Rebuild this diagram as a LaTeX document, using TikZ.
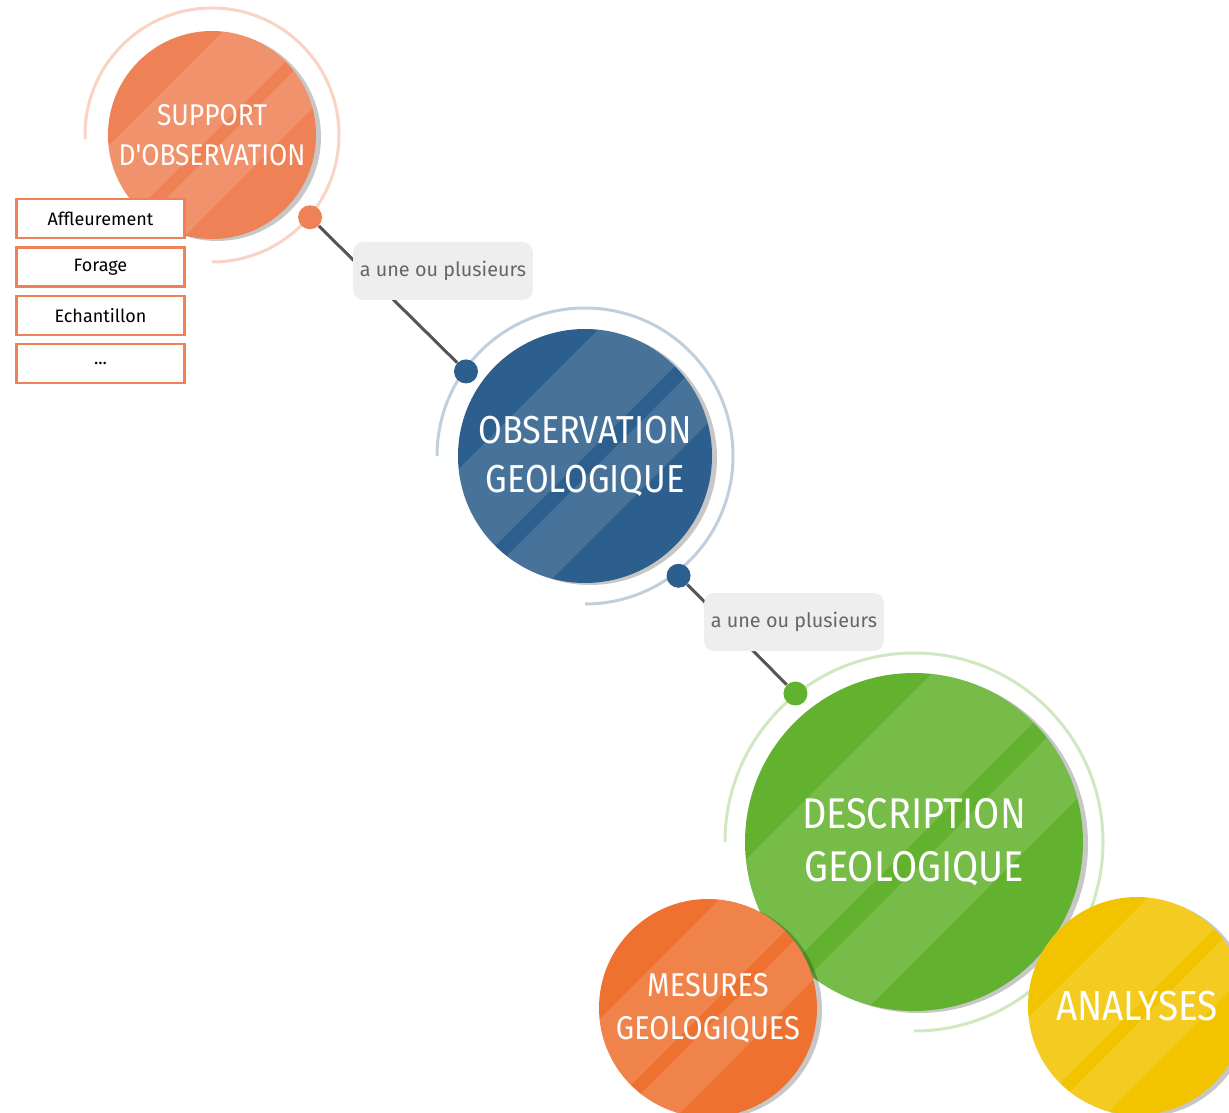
\documentclass[tikz,border=0pt]{standalone}
\usepackage{fontspec}
\newfontfamily\titrefont[FakeStretch=0.88]{Fira Sans}
\newfontfamily\textefont{Fira Sans}
\usetikzlibrary{positioning}
\definecolor{orangeA}{HTML}{EE8256}
\definecolor{bleuA}{HTML}{2C5F8D}
\definecolor{vertA}{HTML}{63B22F}
\definecolor{orangeB}{HTML}{EE7130}
\definecolor{jauneA}{HTML}{F2C400}
\definecolor{trait}{HTML}{555555}
\definecolor{fondlabel}{HTML}{EEEEEE}
%bandes claires en biais sur une bulle : #1 nom, #2 rayon
\newcommand\rayures[2]{%
  \begin{scope}
    \clip (#1.center) circle[radius=#2];
    \begin{scope}[shift={(#1.center)},rotate=-45]
      \fill[white,opacity=0.13] (-0.63*#2,-1.2*#2) rectangle (0,1.2*#2);
      \fill[white,opacity=0.13] (0.12*#2,-1.2*#2) rectangle (0.5*#2,1.2*#2);
    \end{scope}
  \end{scope}}
\begin{document}
\begin{tikzpicture}[x=0.5pt,y=-0.5pt,
bulle/.style 2 args={circle,fill=#1,minimum size=#2pt,inner sep=0pt,text=white,align=center,
  preaction={fill=black,opacity=0.22,transform canvas={shift={(2.5pt,-1pt)}}}},
point/.style={circle,fill=#1,minimum size=12pt,inner sep=0pt},
anneau/.style={#1,line width=1.5pt},
lien/.style={trait,line width=1.5pt},
etiquette/.style={fill=fondlabel,rounded corners=5pt,minimum width=86.5pt,minimum height=29pt,
  text=black!60,font=\textefont\fontsize{9.9}{12}\selectfont},
case/.style={draw=orangeA,line width=1.2pt,fill=white,minimum width=84pt,minimum height=19.5pt,
  inner sep=0pt,font=\textefont\fontsize{9}{10}\selectfont}]
\useasboundingbox (0,0) rectangle (1229,1112);
\clip (0,0) rectangle (1229,1112);
%centres des bulles
\coordinate (csup) at (212,135);
\coordinate (cobs) at (585,456);
\coordinate (cdes) at (914,842);
%anneaux
\draw[anneau=orangeA!35] (csup) ++(178:127) arc[start angle=178,end angle=450,radius=127];
\draw[anneau=bleuA!30] (cobs) ++(180:148) arc[start angle=180,end angle=450,radius=148];
\draw[anneau=vertA!30] (cdes) ++(180:189) arc[start angle=180,end angle=450,radius=189];
%points d'accroche
\node[point=orangeA] (p1) at ([shift={(40:128)}]csup) {};
\node[point=bleuA] (p2) at ([shift={(215.4:146)}]cobs) {};
\node[point=bleuA] (p3) at ([shift={(52:152)}]cobs) {};
\node[point=vertA] (p4) at ([shift={(231.4:190)}]cdes) {};
%liens
\draw[lien] (p1) -- (p2);
\draw[lien] (p3) -- (p4);
\node[etiquette] (e1) at (443,271) {a une ou plusieurs};
\node[etiquette] (e2) at (794,622) {a une ou plusieurs};
%bulles
\node[bulle={orangeA}{104},font=\titrefont\fontsize{15}{20}\selectfont] (sup) at (csup) {SUPPORT\\D'OBSERVATION};
\rayures{sup}{104}
\node[case] (c1) at (100.5,218.5) {Affleurement};
\node[case,below=3.5pt of c1] (c2) {Forage};
\node[case,below=3.5pt of c2] (c3) {Echantillon};
\node[case,below=3.5pt of c3] (c4) {...};
\node[bulle={bleuA}{127},font=\titrefont\fontsize{19.5}{24.5}\selectfont] (obs) at (cobs) {OBSERVATION\\GEOLOGIQUE};
\rayures{obs}{127}
\node[bulle={vertA}{169},font=\titrefont\fontsize{21.5}{26.5}\selectfont] (des) at (cdes) {DESCRIPTION\\GEOLOGIQUE};
\rayures{des}{169}
\node[bulle={orangeB}{109},font=\titrefont\fontsize{16.5}{21.5}\selectfont] (mes) at (708,1008) {MESURES\\GEOLOGIQUES};
\rayures{mes}{109}
\node[bulle={jauneA}{109},font=\titrefont\fontsize{21}{25}\selectfont] (ana) at (1137,1006) {ANALYSES};
\rayures{ana}{109}
\end{tikzpicture}
\end{document}
